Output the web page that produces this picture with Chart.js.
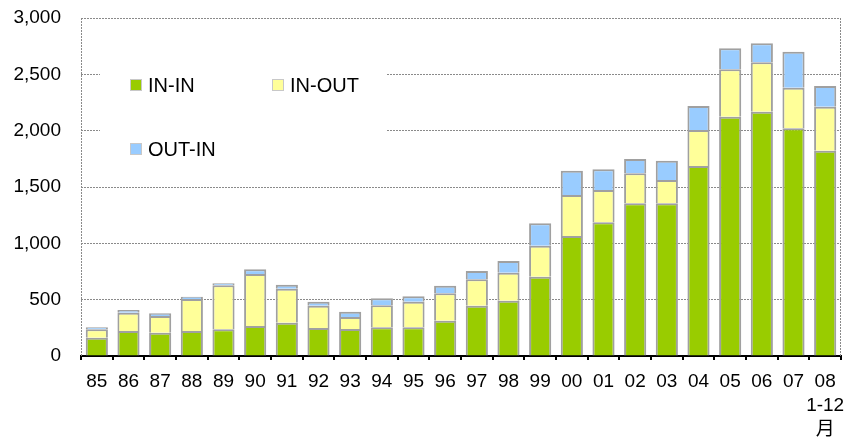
<!DOCTYPE html>
<html>
<head>
<meta charset="utf-8">
<script src="https://cdn.jsdelivr.net/npm/chart.js@4/dist/chart.umd.min.js"></script>
<style>
  html, body { margin: 0; padding: 0; background: #fff; }
  #wrap { width: 844px; height: 441px; position: relative; }
</style>
</head>
<body>
<div id="wrap"><canvas id="c" width="844" height="441"></canvas></div>
<script>
// Year labels (last one covers Jan–Dec of 2008)
const years = ['85','86','87','88','89','90','91','92','93','94','95','96',
               '97','98','99','00','01','02','03','04','05','06','07',['08','1-12','月']];

// Counts per year, by route
const inIn  = [162, 222, 207, 222, 237, 266, 296, 249, 240, 255, 255, 313,
               447, 491, 704, 1065, 1187, 1355, 1355, 1686, 2124, 2168, 2021, 1822];
const inOut = [75, 162, 148, 284, 390, 462, 301, 198, 106, 195, 227, 243,
               234, 249, 275, 364, 286, 267, 207, 320, 421, 439, 360, 391];
const outIn = [19, 24, 24, 20, 18, 42, 36, 35, 47, 62, 48, 68,
               73, 103, 199, 216, 184, 127, 172, 213, 186, 168, 320, 184];

const seriesNames = ['IN-IN', 'IN-OUT', 'OUT-IN'];
const seriesColors = ['#99cc00', '#ffff99', '#99ccff'];

const FONT = '"Liberation Sans", "Noto Sans CJK JP", sans-serif';

// Dotted frame on the left and right of the plot, plus the boxed legend
const framePlugin = {
  id: 'frame',
  beforeDatasetsDraw(chart) {
    const { ctx, chartArea: a } = chart;
    ctx.save();
    ctx.strokeStyle = '#8a8a8a';
    ctx.lineWidth = 1;
    ctx.setLineDash([2, 1]);
    [a.left, a.right - 1].forEach(x => {
      const px = Math.round(x) + 0.5;
      ctx.beginPath();
      ctx.moveTo(px, a.top);
      ctx.lineTo(px, a.bottom);
      ctx.stroke();
    });
    ctx.restore();

    // legend panel
    ctx.save();
    ctx.fillStyle = '#ffffff';
    ctx.fillRect(a.left + 19, 52, 287, 118);
    const items = [
      { x: 130, y: 79 },
      { x: 272, y: 79 },
      { x: 130, y: 143 }
    ];
    ctx.font = '20px ' + FONT;
    ctx.textBaseline = 'middle';
    ctx.textAlign = 'left';
    items.forEach((it, i) => {
      ctx.fillStyle = '#c8c8c8';
      ctx.fillRect(it.x, it.y, 12, 12);
      ctx.fillStyle = seriesColors[i];
      ctx.fillRect(it.x + 1, it.y + 1, 10, 10);
      ctx.fillStyle = '#000';
      ctx.fillText(seriesNames[i], it.x + 18, it.y + 7);
    });
    ctx.restore();
  }
};

const data = {
  labels: years,
  datasets: [inIn, inOut, outIn].map((vals, i) => ({
    label: seriesNames[i],
    data: vals,
    backgroundColor: seriesColors[i],
    borderColor: '#a0a0a0',
    borderWidth: 2,
    barPercentage: 0.7,
    categoryPercentage: 1.0
  }))
};

new Chart(document.getElementById('c'), {
  type: 'bar',
  data,
  plugins: [framePlugin],
  options: {
    responsive: false,
    animation: false,
    devicePixelRatio: 1,
    layout: { padding: { left: 0, right: 3, top: 18, bottom: 0 } },
    plugins: {
      legend: { display: false },
      tooltip: { enabled: false }
    },
    scales: {
      x: {
        stacked: true,
        afterFit(s) { s.height = 85; s.paddingLeft = 0; s.paddingRight = 0; },
        grid: {
          display: true,
          drawOnChartArea: false,
          drawTicks: true,
          tickLength: 4,
          color: '#000',
          lineWidth: 2
        },
        border: { display: true, color: '#000', width: 2 },
        ticks: {
          color: '#000',
          padding: 10,
          maxRotation: 0,
          autoSkip: false,
          font: { family: FONT, size: 19, lineHeight: 1.25 }
        }
      },
      y: {
        stacked: true,
        min: 0,
        max: 3000,
        afterFit(s) { s.width = 81; s.paddingTop = 0; s.paddingBottom = 0; },
        grid: {
          color: '#8a8a8a',
          lineWidth: 1,
          drawTicks: false
        },
        border: { display: false, dash: [2, 1] },
        ticks: {
          stepSize: 500,
          color: '#000',
          padding: 20,
          font: { family: FONT, size: 19 }
        }
      }
    }
  }
});
</script>
</body>
</html>
